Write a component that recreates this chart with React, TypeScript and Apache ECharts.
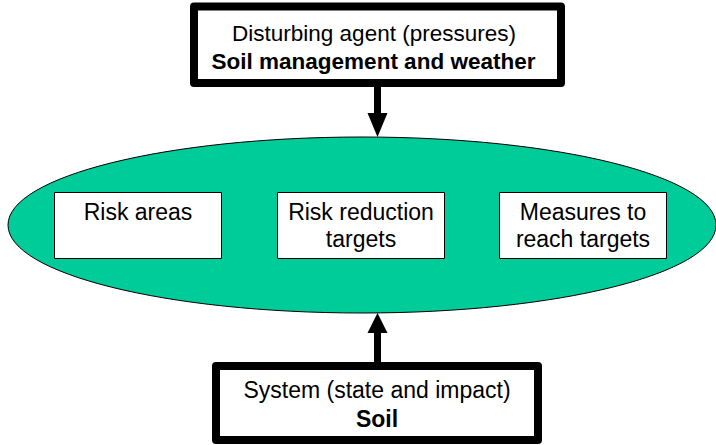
import React, { useEffect, useRef } from "react";
import * as echarts from "echarts";

const topLines = ["Disturbing agent (pressures)", "Soil management and weather"];
const bottomLines = ["System (state and impact)", "Soil"];
const innerLabels = [
  ["Risk areas"],
  ["Risk reduction", "targets"],
  ["Measures to", "reach targets"],
];
const innerBoxX = [54, 277, 499];

const FONT = "'Liberation Sans', Arial, Helvetica, sans-serif";
const FS = 23;
const GREEN = "#00CC99";

function textEl(str: string, x: number, y: number, bold = false, fs = FS) {
  return {
    type: "text",
    x,
    y,
    z: 10,
    style: {
      text: str,
      x: 0,
      y: 0,
      align: "center",
      verticalAlign: "middle",
      fontFamily: FONT,
      fontSize: fs,
      fontWeight: bold ? "bold" : "normal",
      fill: "#000",
    },
  };
}

export default function App() {
  const ref = useRef<HTMLDivElement>(null);
  useEffect(() => {
    if (!ref.current) return;
    const chart = echarts.init(ref.current, undefined, { renderer: "svg" });
    const elements: any[] = [];

    // ellipse
    elements.push({
      type: "ellipse",
      shape: { cx: 362, cy: 225, rx: 354, ry: 88 },
      style: { fill: GREEN, stroke: "#000", lineWidth: 1 },
      z: 1,
    });

    // top box
    elements.push({
      type: "rect",
      shape: { x: 194, y: 6.5, width: 367, height: 76.5 },
      style: { fill: "#fff", stroke: "#000", lineWidth: 8, lineJoin: "round" },
      z: 2,
    });
    elements.push(textEl(topLines[0], 374, 33.5, false, 22.5));
    elements.push(textEl(topLines[1], 373.5, 61.5, true, 22.5));

    // bottom box
    elements.push({
      type: "rect",
      shape: { x: 216, y: 366, width: 322, height: 74 },
      style: { fill: "#fff", stroke: "#000", lineWidth: 8, lineJoin: "round" },
      z: 2,
    });
    elements.push(textEl(bottomLines[0], 377, 390));
    elements.push(textEl(bottomLines[1], 377, 418.5, true));

    // arrows
    elements.push({
      type: "rect",
      shape: { x: 374, y: 86, width: 7, height: 34 },
      style: { fill: "#000" },
      z: 3,
    });
    elements.push({
      type: "polygon",
      shape: { points: [[367.5, 113], [387.5, 113], [377.5, 137]] },
      style: { fill: "#000" },
      z: 3,
    });
    elements.push({
      type: "rect",
      shape: { x: 374, y: 328, width: 7, height: 36 },
      style: { fill: "#000" },
      z: 3,
    });
    elements.push({
      type: "polygon",
      shape: { points: [[367.5, 333], [387.5, 333], [377.5, 313]] },
      style: { fill: "#000" },
      z: 3,
    });

    // inner boxes
    innerLabels.forEach((lines, i) => {
      const x = innerBoxX[i];
      const w = 167;
      elements.push({
        type: "rect",
        shape: { x: x + 0.5, y: 192.5, width: w, height: 66 },
        style: { fill: "#fff", stroke: "#000", lineWidth: 1 },
        z: 4,
      });
      lines.forEach((l, j) => {
        elements.push(textEl(l, x + 0.5 + w / 2, 211.5 + j * 27));
      });
    });

    chart.setOption({
      animation: false,
      graphic: { elements },
    });
    return () => chart.dispose();
  }, []);
  return (
    <div
      ref={ref}
      style={{ position: "fixed", left: 0, top: 0, width: 716, height: 445, background: "#fff" }}
    />
  );
}
